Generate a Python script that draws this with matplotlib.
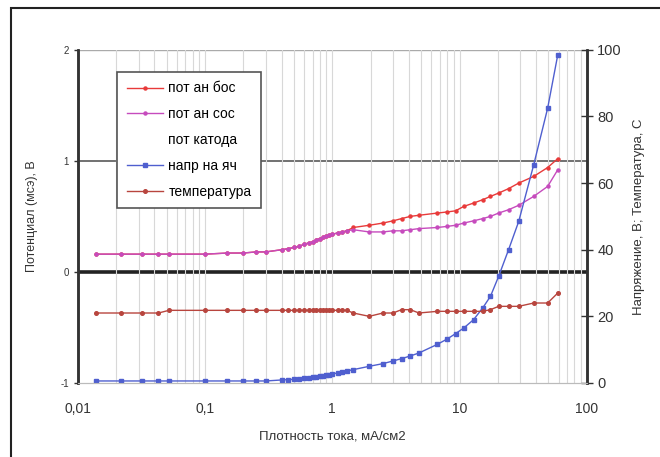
import matplotlib
matplotlib.use("Agg")
import matplotlib.pyplot as plt
from matplotlib.patches import Rectangle
from matplotlib.ticker import FixedLocator, NullFormatter

plt.rcParams['font.family'] = ['Liberation Sans', 'DejaVu Sans']

# Плотность тока, мА/см2
x = [0.014, 0.022, 0.032, 0.043, 0.052, 0.1, 0.15, 0.2, 0.25, 0.3,
     0.4, 0.45, 0.5, 0.55, 0.6, 0.65, 0.7, 0.75, 0.8, 0.85, 0.9, 0.95,
     1.0, 1.1, 1.2, 1.3, 1.46, 1.95, 2.5, 3.0, 3.5, 4.1, 4.8, 6.7, 8.0,
     9.3, 10.8, 12.9, 15.2, 17.5, 20.3, 24.3, 29.2, 38.3, 49.3, 59.2]

pot_an_bos = [0.16, 0.16, 0.16, 0.16, 0.16, 0.16, 0.17, 0.17, 0.18, 0.18,
              0.20, 0.21, 0.22, 0.23, 0.25, 0.26, 0.27, 0.29, 0.30, 0.31, 0.32, 0.33,
              0.34, 0.35, 0.36, 0.37, 0.40, 0.42, 0.44, 0.46, 0.48, 0.50, 0.51, 0.53, 0.54,
              0.55, 0.59, 0.62, 0.65, 0.68, 0.71, 0.75, 0.80, 0.86, 0.94, 1.02]

pot_an_sos = [0.16, 0.16, 0.16, 0.16, 0.16, 0.16, 0.17, 0.17, 0.18, 0.18,
              0.20, 0.21, 0.22, 0.23, 0.25, 0.26, 0.27, 0.29, 0.30, 0.31, 0.32, 0.33,
              0.34, 0.35, 0.36, 0.37, 0.38, 0.36, 0.36, 0.37, 0.37, 0.38, 0.39, 0.40, 0.41,
              0.42, 0.44, 0.46, 0.48, 0.50, 0.53, 0.56, 0.60, 0.68, 0.77, 0.92]

napr_na_yach = [0.6, 0.6, 0.6, 0.6, 0.6, 0.6, 0.6, 0.6, 0.6, 0.6,
                0.9, 1.0, 1.1, 1.3, 1.4, 1.5, 1.7, 1.8, 2.0, 2.1, 2.3, 2.5,
                2.7, 3.0, 3.3, 3.6, 4.0, 5.0, 5.8, 6.6, 7.3, 8.1, 9.0, 11.6, 13.2,
                14.8, 16.5, 19.0, 22.5, 26.0, 32.0, 40.0, 48.5, 65.5, 82.5, 98.5]

temperatura = [21, 21, 21, 21, 21.8, 21.8, 21.8, 21.8, 21.8, 21.8,
               21.8, 21.8, 21.8, 21.8, 21.8, 21.8, 21.8, 21.8, 21.8, 21.8, 21.8, 21.8,
               21.8, 21.8, 21.8, 21.8, 21, 20, 21, 21, 22, 22, 21, 21.5, 21.5,
               21.5, 21.5, 21.5, 21.5, 22, 23, 23, 23, 24, 24, 27]

fig = plt.figure(figsize=(6.6, 4.57), dpi=100)
ax = fig.add_axes([0.118, 0.162, 0.771, 0.729])
ax2 = ax.twinx()

# outer frame of the picture
fig.patches.append(Rectangle((11 / 660, -0.1), 1.2, 0.1 + (457 - 8) / 457,
                             transform=fig.transFigure, fill=False,
                             edgecolor='#222222', linewidth=1.5))

ax.set_xscale('log')
ax.set_xlim(0.01, 100)
ax.set_ylim(-1, 2)
ax2.set_ylim(0, 100)

ax.xaxis.set_minor_locator(FixedLocator([m * 10.0 ** e for e in range(-2, 2) for m in range(2, 10)]))
ax.xaxis.set_minor_formatter(NullFormatter())
ax.set_xticks([0.01, 0.1, 1, 10, 100])
ax.set_xticklabels(['0,01', '0,1', '1', '10', '100'])
ax.grid(True, which='both', axis='x', color='#d8d8d8', linewidth=0.8)
ax.tick_params(axis='x', which='both', length=0, labelsize=10, pad=14, colors='#333333')

ax.set_yticks([-1, 0, 1, 2])
ax.set_yticklabels(['-1', '0', '1', '2'])
ax.tick_params(axis='y', direction='out', length=3, labelsize=7, colors='#333333', width=1)
ax.axhline(1, color='#666666', linewidth=1.3, zorder=1)
ax.axhline(2, color='#aaaaaa', linewidth=1.0, zorder=1)
ax.axhline(0, color='#222222', linewidth=2.6, zorder=1)

ax2.set_yticks([0, 20, 40, 60, 80, 100])
ax2.tick_params(axis='y', direction='inout', length=8, labelsize=10.5, colors='#333333', width=1)

for a in (ax, ax2):
    a.spines['top'].set_visible(False)
    a.spines['bottom'].set_color('#bbbbbb')
    a.spines['left'].set_linewidth(1.8)
    a.spines['right'].set_linewidth(1.8)
    a.spines['left'].set_color('#333333')
    a.spines['right'].set_color('#333333')

l1, = ax.plot(x, pot_an_bos, color='#e83a3a', marker='o', markersize=2.2, linewidth=1, label='пот ан бос')
l2, = ax.plot(x, pot_an_sos, color='#c64bbd', marker='o', markersize=2.2, linewidth=1, label='пот ан сос')
l3, = ax.plot([], [], color='none', label='пот катода')
l4, = ax2.plot(x, napr_na_yach, color='#4f5fcf', marker='s', markersize=2.2, linewidth=1, label='напр на яч')
l5, = ax2.plot(x, temperatura, color='#b8453e', marker='o', markersize=2.6, linewidth=1, label='температура')

ax.set_xlabel('Плотность тока, мА/см2', fontsize=9.5, color='#333333', labelpad=10)
ax.set_ylabel('Потенциал (мсэ), В', fontsize=9, color='#333333', labelpad=16)
ax2.set_ylabel('Напряжение, В; Температура, С', fontsize=9.5, color='#333333', labelpad=8)

leg = ax2.legend(handles=[l1, l2, l3, l4, l5], loc='upper left',
                 bbox_to_anchor=(0.063, 0.955), fontsize=10, frameon=True,
                 fancybox=False, framealpha=1, edgecolor='#555555',
                 handlelength=2.6, labelspacing=0.85, borderpad=0.7,
                 handletextpad=0.4)
leg.get_frame().set_linewidth(1.2)

fig.savefig('out.png', dpi=100)
